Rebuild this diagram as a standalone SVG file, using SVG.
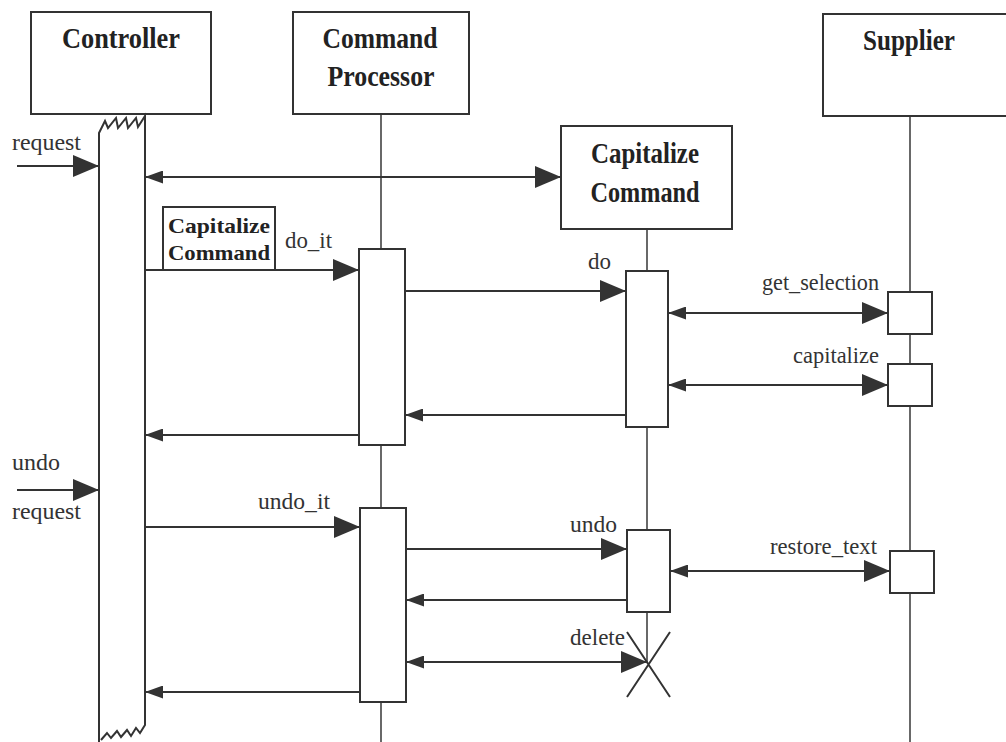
<svg xmlns="http://www.w3.org/2000/svg" width="1006" height="742" viewBox="0 0 1006 742">
<style>
.box{fill:#fff;stroke:#333;stroke-width:2}
.life{stroke:#444;stroke-width:1.6;fill:none}
.msg{stroke:#333;stroke-width:2;fill:none}
.h{font-family:"Liberation Serif",serif;font-weight:bold;font-size:30px;fill:#222;text-anchor:middle}
.hs{font-family:"Liberation Serif",serif;font-weight:bold;font-size:22px;fill:#222}
.l{font-family:"Liberation Serif",serif;font-size:24px;fill:#333}
</style>
<defs>
<marker id="big" markerUnits="userSpaceOnUse" markerWidth="26" markerHeight="22" refX="26" refY="11" orient="auto-start-reverse"><path d="M0,0 L26,11 L0,22 z" fill="#333"/></marker>
<marker id="small" markerUnits="userSpaceOnUse" markerWidth="18" markerHeight="13" refX="18" refY="6.5" orient="auto-start-reverse"><path d="M0,0 L18,6.5 L0,13 z" fill="#333"/></marker>
</defs>
<g id="lifelines">
<path class="life" d="M381,114V249 M381,445V508 M381,702V742"/>
<path class="life" d="M647,229V271 M647,427V530 M647,612V662"/>
<path class="life" d="M910,116V292 M910,334V364 M910,406V551 M910,593V742"/>
</g>
<g id="controller">
<rect class="box" x="31" y="12" width="180" height="102"/>
<text class="h" x="121" y="48" textLength="118" lengthAdjust="spacingAndGlyphs">Controller</text>
<path class="msg" fill="#fff" d="M99,742 V133 L105,121 L108,128 L116,118 L118,128 L126,118 L128,128 L136,118 L138,127 L145,116 V725 L140,733 L136,728 L131,736 L127,730 L121,737 L117,731 L111,738 L107,733 L101,740"/>
</g>
<g id="command-processor">
<rect class="box" x="293" y="12" width="176" height="102"/>
<text class="h" x="380" y="48" textLength="115" lengthAdjust="spacingAndGlyphs">Command</text>
<text class="h" x="381" y="86" textLength="107" lengthAdjust="spacingAndGlyphs">Processor</text>
<rect class="box" x="359" y="249" width="46" height="196"/>
<rect class="box" x="360" y="508" width="46" height="194"/>
</g>
<g id="capitalize-command">
<rect class="box" x="561" y="126" width="171" height="103"/>
<text class="h" x="645" y="163" textLength="108" lengthAdjust="spacingAndGlyphs">Capitalize</text>
<text class="h" x="645" y="202" textLength="109" lengthAdjust="spacingAndGlyphs">Command</text>
<rect class="box" x="626" y="271" width="42" height="156"/>
<rect class="box" x="627" y="530" width="43" height="82"/>
<path class="msg" d="M627,632 L670,697 M670,632 L627,697"/>
</g>
<g id="supplier">
<rect class="box" x="823" y="14" width="190" height="102"/>
<text class="h" x="909" y="50" textLength="92" lengthAdjust="spacingAndGlyphs">Supplier</text>
<rect class="box" x="888" y="292" width="44" height="42"/>
<rect class="box" x="888" y="364" width="44" height="42"/>
<rect class="box" x="890" y="551" width="44" height="42"/>
</g>
<g id="capitalize-command-token">
<rect class="box" x="163" y="207" width="112" height="63"/>
<text class="hs" x="168" y="233" textLength="102" lengthAdjust="spacingAndGlyphs">Capitalize</text>
<text class="hs" x="168" y="260" textLength="102" lengthAdjust="spacingAndGlyphs">Command</text>
</g>
<g id="connectors">
<line class="msg" x1="17" y1="166" x2="99" y2="166" marker-end="url(#big)"/>
<line class="msg" x1="145" y1="177" x2="561" y2="177" marker-start="url(#small)" marker-end="url(#big)"/>
<line class="msg" x1="145" y1="270" x2="359" y2="270" marker-end="url(#big)"/>
<line class="msg" x1="359" y1="435" x2="145" y2="435" marker-end="url(#small)"/>
<line class="msg" x1="405" y1="291" x2="626" y2="291" marker-end="url(#big)"/>
<line class="msg" x1="668" y1="313" x2="888" y2="313" marker-start="url(#small)" marker-end="url(#big)"/>
<line class="msg" x1="668" y1="385" x2="888" y2="385" marker-start="url(#small)" marker-end="url(#big)"/>
<line class="msg" x1="626" y1="415" x2="405" y2="415" marker-end="url(#small)"/>
<line class="msg" x1="17" y1="490" x2="99" y2="490" marker-end="url(#big)"/>
<line class="msg" x1="145" y1="527" x2="360" y2="527" marker-end="url(#big)"/>
<line class="msg" x1="360" y1="692" x2="145" y2="692" marker-end="url(#small)"/>
<line class="msg" x1="406" y1="549" x2="627" y2="549" marker-end="url(#big)"/>
<line class="msg" x1="670" y1="571" x2="890" y2="571" marker-start="url(#small)" marker-end="url(#big)"/>
<line class="msg" x1="627" y1="600" x2="406" y2="600" marker-end="url(#small)"/>
<line class="msg" x1="406" y1="662" x2="647" y2="662" marker-start="url(#small)" marker-end="url(#big)"/>
</g>
<g id="labels">
<text class="l" x="12" y="150" textLength="69" lengthAdjust="spacingAndGlyphs">request</text>
<text class="l" x="285" y="248" textLength="47" lengthAdjust="spacingAndGlyphs">do_it</text>
<text class="l" x="588" y="269" textLength="23" lengthAdjust="spacingAndGlyphs">do</text>
<text class="l" x="762" y="290" textLength="117" lengthAdjust="spacingAndGlyphs">get_selection</text>
<text class="l" x="793" y="363" textLength="86" lengthAdjust="spacingAndGlyphs">capitalize</text>
<text class="l" x="12" y="470" textLength="48" lengthAdjust="spacingAndGlyphs">undo</text>
<text class="l" x="12" y="519" textLength="69" lengthAdjust="spacingAndGlyphs">request</text>
<text class="l" x="258" y="509" textLength="72" lengthAdjust="spacingAndGlyphs">undo_it</text>
<text class="l" x="570" y="532" textLength="47" lengthAdjust="spacingAndGlyphs">undo</text>
<text class="l" x="770" y="554" textLength="107" lengthAdjust="spacingAndGlyphs">restore_text</text>
<text class="l" x="570" y="645" textLength="55" lengthAdjust="spacingAndGlyphs">delete</text>
</g>
</svg>
